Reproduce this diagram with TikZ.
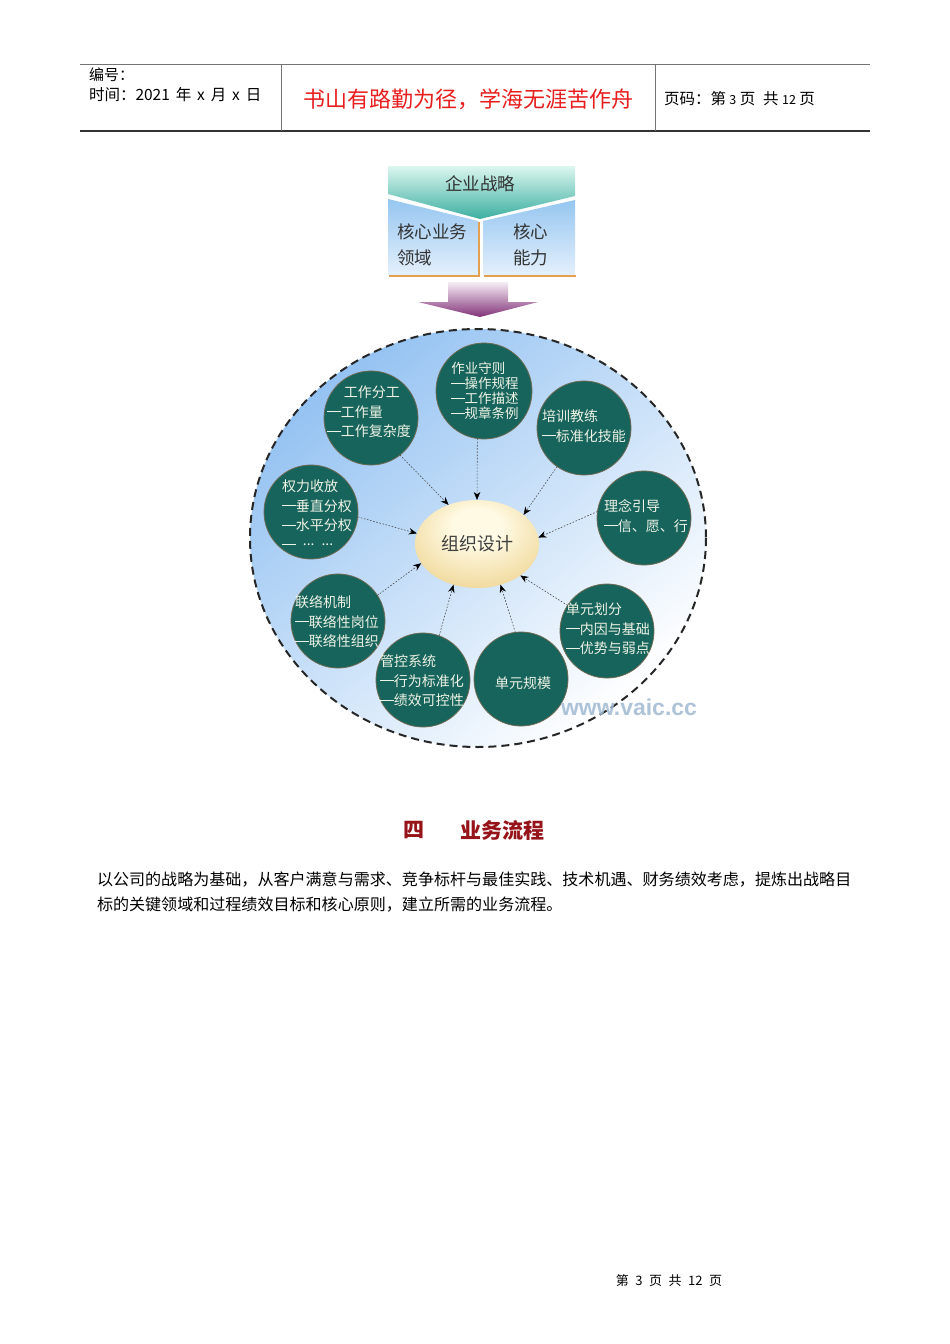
\documentclass[tikz,border=0pt]{standalone}
\usepackage{fontspec}
\setmainfont{Noto Sans CJK SC}
\newfontfamily\wmfont{Liberation Sans}
\usetikzlibrary{shapes.geometric,arrows.meta}
\newcommand\dsh{\rule[0.36em]{0.98em}{0.075em}}
\newcommand\hsp{\hspace{0.38em}}
\newcommand\mdots{\raisebox{0.3em}{...}}
\definecolor{tealc}{RGB}{22,100,92}
\definecolor{bubedge}{RGB}{110,105,80}
\definecolor{bubtext}{RGB}{238,242,228}
\definecolor{bigblue}{RGB}{148,194,242}
\definecolor{bigmid}{RGB}{205,226,250}
\definecolor{gcream}{RGB}{255,250,228}
\definecolor{gmid}{RGB}{238,212,145}
\definecolor{ggold}{RGB}{196,152,60}
\definecolor{bantop}{RGB}{220,246,240}
\definecolor{banbot}{RGB}{60,175,160}
\definecolor{boxtop}{RGB}{150,198,240}
\definecolor{boxbot}{RGB}{228,240,252}
\definecolor{boxedge}{RGB}{226,160,80}
\definecolor{purtop}{RGB}{246,238,246}
\definecolor{purbot}{RGB}{130,50,120}
\definecolor{hdred}{RGB}{150,20,25}
\definecolor{mottored}{RGB}{232,30,30}
\definecolor{wmcol}{RGB}{160,185,210}
\pgfdeclareradialshading{goldsh}{\pgfpoint{0bp}{12bp}}{color(0bp)=(gcream); color(10bp)=(gcream); color(35bp)=(gmid); color(62bp)=(ggold)}
\begin{document}
\begin{tikzpicture}[x=1pt,y=-1pt,
  txt/.style={inner sep=0pt, outer sep=0pt},
  bub/.style={circle, fill=tealc, draw=bubedge, line width=0.8pt, minimum size=94pt, inner sep=0pt, outer sep=0pt},
  btxt/.style={text=bubtext, align=left, inner sep=0pt, font=\fontsize{14}{19.5}\selectfont},
  link/.style={draw=black!70, line width=0.6pt, dash pattern=on 1.6pt off 1.6pt, -{Stealth[length=8pt,width=6.5pt,black]}},
  boxtxt/.style={inner sep=0pt, text=black!80, font=\fontsize{17.5}{26}\selectfont, align=left}
]
\useasboundingbox (0,0) rectangle (950,1344);
\fill[white] (0,0) rectangle (950,1344);

% header
\draw[black!55, line width=0.8pt] (80,64) -- (870,64);
\draw[black!80, line width=1.2pt] (80,131) -- (870,131);
\draw[black!55, line width=0.8pt] (281,64) -- (281,131);
\draw[black!55, line width=0.8pt] (655,64) -- (655,131);
\node[txt, anchor=west, font=\fontsize{15}{15}\selectfont] (hnum) at (89,75) {编号：};
\node[txt, anchor=west, font=\fontsize{15.5}{15}\selectfont] (htime) at (89,95) {时间：2021\hsp 年\hsp x\hsp 月\hsp x\hsp 日};
\node[txt, text=mottored, font=\fontsize{22}{22}\selectfont] (motto) at (468,99) {书山有路勤为径，学海无涯苦作舟};
\node[txt, anchor=west, font=\fontsize{15.5}{15}\selectfont] (hpage) at (664,99) {页码：第{\fontsize{12.5}{12}\selectfont\;3\;}页\enspace 共{\fontsize{12.5}{12}\selectfont\;12\;}页};

% top strategy block
\shade[top color=boxtop, bottom color=boxbot] (388,199) -- (478,221) -- (478,275) -- (388,275) -- cycle;
\shade[top color=boxtop, bottom color=boxbot] (483,221) -- (575,200) -- (575,275) -- (483,275) -- cycle;
\draw[boxedge, line width=1.5pt] (389,276) -- (479,276) -- (479,222);
\draw[boxedge, line width=1.5pt] (484,276) -- (576,276);
\shade[top color=bantop, bottom color=banbot] (388,166) -- (575,166) -- (575,196) -- (480,219) -- (388,194) -- cycle;
\node[boxtxt] (strat) at (480,184) {企业战略};
\node[boxtxt, anchor=west] (core1) at (397,245) {核心业务\\领域};
\node[boxtxt, anchor=west] (core2) at (513,245) {核心\\能力};

% purple arrow
\shade[top color=purtop, bottom color=purbot] (448,282) -- (508,282) -- (508,302) -- (538,302) -- (480,317) -- (418,302) -- (448,302) -- cycle;

% big dashed circle
\node[ellipse, minimum width=456pt, minimum height=418pt, inner sep=0pt, outer sep=0pt,
      top color=bigblue, middle color=bigmid, bottom color=white, shading angle=40] (bigc) at (478,538) {};
\draw[black!85, line width=2pt, dash pattern=on 8pt off 5pt] (bigc.center) ellipse [x radius=228, y radius=209];

% center ellipse
\node[ellipse, minimum width=124pt, minimum height=88pt, inner sep=0pt, outer sep=0pt,
      shading=goldsh, text=black!75, font=\fontsize{18}{18}\selectfont] (org) at (477,544) {组织设计};

% bubbles
\node[bub] (c1) at (371,418) {};
\node[bub, minimum size=96pt] (c2) at (484,391) {};
\node[bub] (c3) at (584,428) {};
\node[bub] (c4) at (644,518) {};
\node[bub] (c5) at (311,512) {};
\node[bub] (c6) at (338,621) {};
\node[bub] (c7) at (423,680) {};
\node[bub] (c8) at (521,679) {};
\node[bub] (c9) at (607,631) {};

\node[btxt] (t1) at (369,412) {\hspace*{1.2em}工作分工\\\dsh 工作量\\\dsh 工作复杂度};
\node[btxt, font=\fontsize{13.5}{15}\selectfont] (t2) at (485,391) {作业守则\\\dsh 操作规程\\\dsh 工作描述\\\dsh 规章条例};
\node[btxt] (t3) at (584,426) {培训教练\\\dsh 标准化技能};
\node[btxt] (t4) at (646,516) {理念引导\\\dsh 信、愿、行};
\node[btxt, anchor=west] (t5) at (282,515) {权力收放\\\dsh 垂直分权\\\dsh 水平分权\\\dsh\enspace\mdots\enspace\mdots};
\node[btxt] (t6) at (337,622) {联络机制\\\dsh 联络性岗位\\\dsh 联络性组织};
\node[btxt] (t7) at (422,681) {管控系统\\\dsh 行为标准化\\\dsh 绩效可控性};
\node[btxt] (t8) at (523,683) {单元规模};
\node[btxt] (t9) at (608,629) {单元划分\\\dsh 内因与基础\\\dsh 优势与弱点};

% links
\draw[link] (c1.-52) -- (org.126);
\draw[link] (c2.-98) -- (org.90);
\draw[link] (c3.-125) -- (org.32);
\draw[link] (c4.172) -- (org.6);
\draw[link] (c5.-6) -- (org.170);
\draw[link] (c6.33) -- (org.199);
\draw[link] (c7.70) -- (org.-120);
\draw[link] (c8.97) -- (org.-60);
\draw[link] (c9.147) -- (org.-36);

% watermark
\node[txt, text=wmcol, font=\wmfont\bfseries\fontsize{23}{23}\selectfont, opacity=0.85] (wm) at (629,707) {www.vaic.cc};

% section heading and body
\node[txt, text=hdred, font=\bfseries\fontsize{21}{21}\selectfont] (h4) at (414,830) {四};
\node[txt, text=hdred, font=\bfseries\fontsize{21}{21}\selectfont] (hbiz) at (502,830) {业务流程};
\node[txt, anchor=west, font=\fontsize{16.05}{16}\selectfont] (p1) at (97,880) {以公司的战略为基础，从客户满意与需求、竞争标杆与最佳实践、技术机遇、财务绩效考虑，提炼出战略目};
\node[txt, anchor=west, font=\fontsize{16.05}{16}\selectfont] (p2) at (97,905) {标的关键领域和过程绩效目标和核心原则，建立所需的业务流程。};

% footer
\node[txt, font=\fontsize{13}{13}\selectfont] (foot) at (669,1281) {第\enspace 3\enspace 页\enspace 共\enspace 12\enspace 页};
\end{tikzpicture}
\end{document}
